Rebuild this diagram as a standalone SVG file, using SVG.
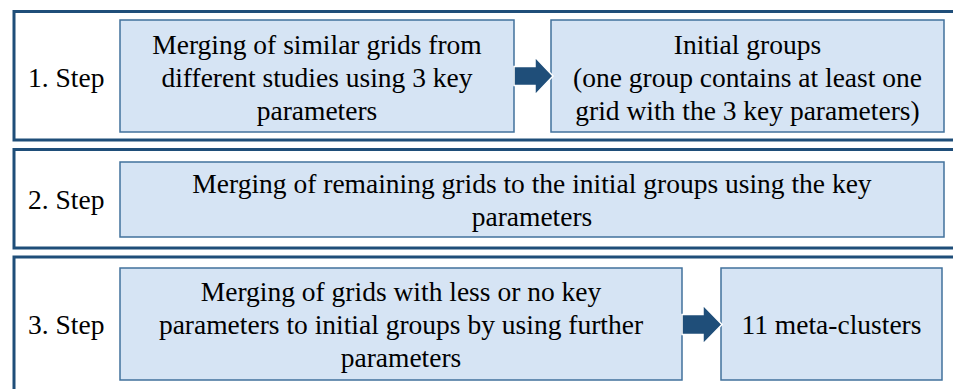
<svg xmlns="http://www.w3.org/2000/svg" width="953" height="389" viewBox="0 0 953 389" font-family="'Liberation Serif', 'Times New Roman', 'DejaVu Serif', serif" font-size="27.5">
  <style>
    .frame { fill: #FFFFFF; stroke: #1F4E79; stroke-width: 3; }
    .box { fill: #D6E4F4; stroke: #41719C; stroke-width: 1.5; }
    .arrow { fill: #1F4E79; stroke: #FFFFFF; stroke-width: 1.5; stroke-linejoin: miter; }
    .c { text-anchor: middle; }
  </style>
  <rect width="953" height="389" fill="#FFFFFF"/>

  <!-- Step 1 -->
  <g id="step1">
    <rect class="frame" x="14" y="11.5" width="960" height="128.5"/>
    <text x="28" y="87">1. Step</text>
  </g>
  <g id="merge-key">
    <rect class="box" x="120" y="20" width="394" height="112"/>
    <text class="c" x="317" y="53.5">Merging of similar grids from</text>
    <text class="c" x="317" y="86.5">different studies using 3 key</text>
    <text class="c" x="317" y="119.5">parameters</text>
  </g>
  <g id="initial-groups">
    <rect class="box" x="551" y="20" width="393" height="112"/>
    <text class="c" x="747.5" y="53.5">Initial groups</text>
    <text class="c" x="747.5" y="86.5">(one group contains at least one</text>
    <text class="c" x="747.5" y="119.5">grid with the 3 key parameters)</text>
  </g>

  <!-- Step 2 -->
  <g id="step2">
    <rect class="frame" x="14" y="149.5" width="960" height="98.5"/>
    <text x="28" y="209">2. Step</text>
  </g>
  <g id="merge-remaining">
    <rect class="box" x="120" y="162" width="824" height="75"/>
    <text class="c" x="532" y="193">Merging of remaining grids to the initial groups using the key</text>
    <text class="c" x="532" y="226">parameters</text>
  </g>

  <!-- Step 3 -->
  <g id="step3">
    <rect class="frame" x="14" y="257" width="960" height="150"/>
    <text x="28" y="334">3. Step</text>
  </g>
  <g id="merge-further">
    <rect class="box" x="120" y="268" width="562" height="112"/>
    <text class="c" x="401" y="301">Merging of grids with less or no key</text>
    <text class="c" x="401" y="334">parameters to initial groups by using further</text>
    <text class="c" x="401" y="367">parameters</text>
  </g>
  <g id="meta-clusters">
    <rect class="box" x="721" y="268" width="221" height="112"/>
    <text class="c" x="831.5" y="334">11 meta-clusters</text>
  </g>

  <!-- Connectors -->
  <g id="connectors">
    <polygon class="arrow" points="514,66.5 535,66.5 535,57 553,76 535,95 535,85.5 514,85.5"/>
    <polygon class="arrow" points="682,314.5 703,314.5 703,305 722,324.5 703,344 703,334.5 682,334.5"/>
  </g>
</svg>
